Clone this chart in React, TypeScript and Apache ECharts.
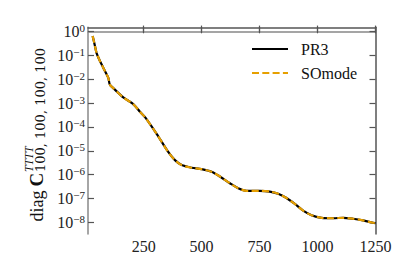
import React, { useEffect, useRef } from "react";
import * as echarts from "echarts";

// multipole ell
const ell = [30, 40, 47, 60, 70, 88, 98, 104, 120, 162, 205, 234, 256, 306, 356, 385, 414, 457, 500, 543, 579, 622, 658, 694, 751, 794, 830, 866, 902, 938, 974, 1017, 1067, 1110, 1153, 1196, 1239, 1250];
// log10 of diag C (PR3)
const logPR3 = [-0.18, -0.6, -0.9, -1.2, -1.4, -1.75, -1.95, -2.22, -2.38, -2.76, -3.04, -3.36, -3.59, -4.29, -5.05, -5.39, -5.6, -5.71, -5.77, -5.88, -6.08, -6.36, -6.57, -6.68, -6.68, -6.71, -6.8, -6.98, -7.23, -7.51, -7.7, -7.81, -7.83, -7.81, -7.85, -7.92, -8.02, -8.03];
// log10 of diag C (SOmode)
const logSOmode = [-0.18, -0.6, -0.9, -1.2, -1.4, -1.75, -1.95, -2.22, -2.38, -2.76, -3.04, -3.36, -3.59, -4.29, -5.05, -5.39, -5.6, -5.71, -5.77, -5.88, -6.08, -6.36, -6.57, -6.68, -6.68, -6.71, -6.8, -6.98, -7.23, -7.51, -7.7, -7.81, -7.83, -7.81, -7.85, -7.92, -8.02, -8.03];

const xTicks = [250, 500, 750, 1000, 1250];
const yTicks = [-8, -7, -6, -5, -4, -3, -2, -1, 0];
const seriesNames = ["PR3", "SOmode"];

const SERIF = '"Liberation Serif", "Times New Roman", serif';

export default function App() {
  const ref = useRef<HTMLDivElement>(null);
  useEffect(() => {
    if (!ref.current) return;
    const chart = echarts.init(ref.current, undefined, { renderer: "svg" });
    const axisColorA = "#888";
    const axisColorB = "#555";
    const option: any = {
      animation: false,
      backgroundColor: "#fff",
      grid: { left: 88, right: 39.5, top: 27.3, bottom: 43 },
      legend: {
        orient: "vertical",
        left: 251,
        top: 41,
        padding: 0,
        itemWidth: 36,
        itemHeight: 14,
        itemGap: 8,
        data: seriesNames,
        itemStyle: { opacity: 0, borderWidth: 0 },
        textStyle: { fontFamily: SERIF, fontSize: 16, color: "#111", padding: [0, 0, 0, 8] },
      },
      xAxis: [
        {
          type: "value",
          min: 10,
          max: 1250,
          position: "bottom",
          splitLine: { show: false },
          axisLine: { show: true, lineStyle: { color: axisColorA, width: 1.5 } },
          axisTick: { show: true, inside: true, length: 6, customValues: xTicks, lineStyle: { color: axisColorB, width: 1.2 } },
          axisLabel: { customValues: xTicks, margin: 4, fontFamily: SERIF, fontSize: 16, color: "#222", formatter: (v: number) => String(v) },
        },
        {
          type: "value",
          min: 10,
          max: 1250,
          position: "top",
          splitLine: { show: false },
          axisLine: { show: true, onZero: false, lineStyle: { color: axisColorB, width: 1.5 } },
          axisTick: { show: true, inside: true, length: 6, customValues: xTicks, lineStyle: { color: axisColorB, width: 1.2 } },
          axisLabel: { show: false },
        },
      ],
      yAxis: [
        {
          type: "value",
          min: -8.49,
          max: 0.18,
          position: "left",
          splitLine: { show: false },
          axisLine: { show: true, onZero: false, lineStyle: { color: axisColorA, width: 1.5 } },
          axisTick: { show: true, inside: true, length: 6, customValues: yTicks, lineStyle: { color: axisColorB, width: 1.2 } },
          axisLabel: {
            customValues: yTicks,
            margin: 3,
            formatter: (v: number) => `{b|10}{s|${v === 0 ? "0" : "\u2212" + Math.round(-v)}}`,
            rich: {
              b: { fontFamily: SERIF, fontSize: 16, color: "#222", lineHeight: 18 },
              s: { fontFamily: SERIF, fontSize: 11, color: "#222", lineHeight: 10, verticalAlign: "top" },
            },
          },
        },
        {
          type: "value",
          min: -8.49,
          max: 0.18,
          position: "right",
          splitLine: { show: false },
          axisLine: { show: true, onZero: false, lineStyle: { color: axisColorB, width: 1.5 } },
          axisTick: { show: true, inside: true, length: 6, customValues: yTicks, lineStyle: { color: axisColorB, width: 1.2 } },
          axisLabel: { show: false },
        },
      ],
      series: [
        {
          name: seriesNames[0],
          type: "line",
          xAxisIndex: 0,
          yAxisIndex: 0,
          symbol: "none",
          smooth: 0.3,
          data: ell.map((l, i) => [l, logPR3[i]]),
          lineStyle: { color: "#000", width: 2.2 },
          itemStyle: { color: "#000" },
          z: 2,
        },
        {
          name: seriesNames[1],
          type: "line",
          xAxisIndex: 0,
          yAxisIndex: 0,
          symbol: "none",
          smooth: 0.3,
          data: ell.map((l, i) => [l, logSOmode[i]]),
          lineStyle: { color: "#E69F00", width: 2.2, type: [7, 3.3] },
          itemStyle: { color: "#E69F00" },
          z: 3,
        },
      ],
      graphic: [
        {
          type: "group",
          x: 43,
          y: 221.5,
          rotation: Math.PI / 2,
          children: [
            { type: "text", x: 0, y: -6.5, style: { text: "diag", fontFamily: SERIF, fontSize: 18, fill: "#111", verticalAlign: "middle", align: "left" } },
            { type: "text", x: 35, y: -6.8, style: { text: "C", fontFamily: SERIF, fontSize: 19, fontWeight: "bold", fill: "#111", verticalAlign: "middle", align: "left" } },
            { type: "text", x: 49.5, y: -14, style: { text: "TTTT", fontFamily: SERIF, fontSize: 11.5, fontStyle: "italic", fill: "#111", verticalAlign: "middle", align: "left" } },
            { type: "text", x: 49.5, y: -3, style: { text: "100, 100, 100, 100", fontFamily: '"DejaVu Serif", serif', fontSize: 13, fill: "#111", verticalAlign: "middle", align: "left" } },
          ],
        },
      ],
    };
    chart.setOption(option);
    return () => chart.dispose();
  }, []);
  return <div ref={ref} style={{ width: 415, height: 277, position: "absolute", left: 0, top: 0 }} />;
}
